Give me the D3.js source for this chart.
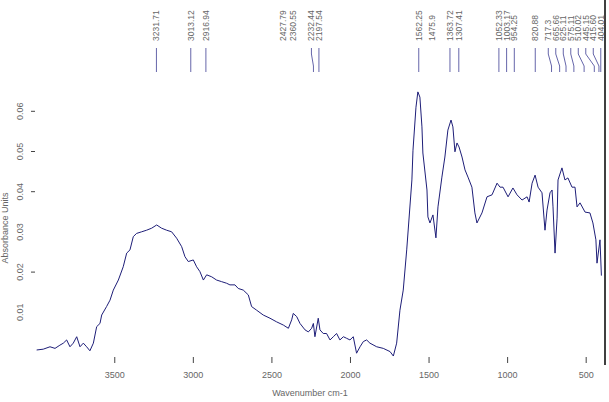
<!DOCTYPE html>
<html><head><meta charset="utf-8">
<script src="https://cdn.jsdelivr.net/npm/d3@7"></script>
<style>
html,body{margin:0;padding:0;background:#fff;}
svg{display:block;font-family:"Liberation Sans",Arial,sans-serif;}
</style></head>
<body>
<svg id="chart" width="609" height="402"></svg>
<script>
// ---- data ----
const wavenumbers = [3994,3952,3909,3877,3846,3824,3803,3782,3761,3739,3718,3697,3676,3655,3633,3612,3591,3580,3549,3527,3506,3474,3443,3421,3400,3379,3358,3326,3294,3262,3230,3199,3167,3135,3103,3071,3050,3029,2997,2976,2955,2933,2912,2880,2849,2817,2785,2764,2732,2711,2679,2647,2626,2594,2552,2509,2467,2424,2392,2371,2361,2339,2318,2286,2265,2244,2233,2223,2202,2191,2170,2149,2127,2106,2085,2064,2042,2021,2000,1979,1958,1936,1915,1894,1873,1830,1788,1745,1724,1703,1682,1661,1639,1606,1599,1580,1568,1555,1542,1536,1510,1504,1491,1472,1453,1440,1415,1396,1377,1357,1345,1332,1319,1306,1287,1268,1249,1224,1205,1192,1160,1128,1096,1064,1045,1026,994,963,937,905,873,860,841,822,803,778,759,746,727,714,708,695,682,676,651,632,613,587,568,555,536,504,473,454,435,428,409,400];
const absorbance  = [0.0005,0.0007,0.0013,0.0009,0.0017,0.0022,0.0030,0.0013,0.0022,0.0038,0.0013,0.0022,0.0013,0.0003,0.0022,0.0063,0.0071,0.0092,0.0113,0.0129,0.0154,0.0179,0.0212,0.0246,0.0254,0.0287,0.0295,0.0299,0.0303,0.0308,0.0316,0.0308,0.0303,0.0299,0.0283,0.0262,0.0237,0.0225,0.0229,0.0212,0.0200,0.0179,0.0192,0.0187,0.0179,0.0175,0.0171,0.0167,0.0167,0.0158,0.0154,0.0142,0.0113,0.0104,0.0092,0.0084,0.0075,0.0067,0.0059,0.0080,0.0096,0.0088,0.0071,0.0055,0.0050,0.0059,0.0071,0.0038,0.0084,0.0055,0.0046,0.0046,0.0030,0.0038,0.0046,0.0030,0.0038,0.0034,0.0030,0.0038,-0.0003,0.0013,0.0026,0.0030,0.0022,0.0013,0.0009,0.0001,-0.0010,0.0022,0.0104,0.0154,0.0254,0.0428,0.0502,0.0609,0.0647,0.0634,0.0560,0.0495,0.0403,0.0336,0.0321,0.0341,0.0284,0.0361,0.0435,0.0485,0.0552,0.0577,0.0560,0.0498,0.0520,0.0510,0.0485,0.0453,0.0435,0.0410,0.0346,0.0321,0.0346,0.0386,0.0391,0.0420,0.0410,0.0410,0.0386,0.0408,0.0391,0.0378,0.0386,0.0373,0.0420,0.0440,0.0410,0.0396,0.0303,0.0353,0.0396,0.0403,0.0361,0.0246,0.0333,0.0428,0.0458,0.0428,0.0433,0.0410,0.0410,0.0361,0.0371,0.0348,0.0346,0.0321,0.0279,0.0221,0.0279,0.0190];

const peakWavenumbers = [3231.71,3013.12,2916.94,2232.44,2197.54,1562.25,1363.72,1307.41,1052.33,1003.17,954.25,820.88,717.3,665.66,625.11,575.11,510.02,445.15,415.60,404.01];
const peakLabels = ["3231.71","3013.12","2916.94","2232.44","2197.54","1562.25","1363.72","1307.41","1052.33","1003.17","954.25","820.88","717.3","665.66","625.11","575.11","510.02","445.15","415.60","404.01"];
const unmarkedWavenumbers = [2427.79,2360.55,1475.9];
const unmarkedLabels = ["2427.79","2360.55","1475.9"];

const xTicks = [3500,3000,2500,2000,1500,1000,500];
const yTicks = [0.01,0.02,0.03,0.04,0.05,0.06];
const yTicksWithMark = [0.02,0.04,0.05,0.06];

// ---- chart ----
const svg = d3.select("#chart");
const x = d3.scaleLinear().domain([4000,400]).range([35.7,601.4]);
const y = d3.scaleLinear().domain([0,0.06]).range([352,110.8]);

const lineColor = "#1e1e78";
const markColor = "#6666aa";
const textColor = "#666";

// right frame fragment
svg.append("line").attr("x1",605).attr("x2",605).attr("y1",0).attr("y2",365)
  .attr("stroke","#000").attr("stroke-width",1.5);

// x axis
const xa = svg.append("g").attr("transform","translate(0,357)")
  .call(d3.axisBottom(x).tickValues(xTicks).tickSize(6).tickPadding(9).tickFormat(d3.format("d")));
xa.select(".domain").remove();
xa.selectAll("line").attr("stroke","#444");
xa.selectAll("text").attr("fill",textColor).style("font-size","9px");

// y axis
const ya = svg.append("g").attr("transform","translate(35,0)")
  .call(d3.axisLeft(y).tickValues(yTicks).tickSize(4).tickFormat(d3.format(".2f")));
ya.select(".domain").remove();
ya.selectAll(".tick").filter(d=>!yTicksWithMark.includes(d)).select("line").remove();
ya.selectAll("line").attr("stroke","#444");
ya.selectAll("text").attr("x",null).attr("dy",null)
  .attr("transform","translate(-14,0) rotate(-90)")
  .attr("text-anchor","middle").attr("dominant-baseline","middle")
  .attr("fill",textColor).style("font-size","9px");

// axis titles
svg.append("text").attr("x",310).attr("y",396).attr("text-anchor","middle")
  .attr("fill",textColor).style("font-size","9px").text("Wavenumber cm-1");
svg.append("text").attr("transform","translate(6,228) rotate(-90)").attr("text-anchor","middle")
  .attr("dominant-baseline","middle")
  .attr("fill",textColor).style("font-size","9px").text("Absorbance Units");

// spectrum
const line = d3.line().x((d,i)=>x(wavenumbers[i])).y(d=>y(d));
svg.append("path").datum(absorbance).attr("d",line)
  .attr("fill","none").attr("stroke",lineColor).attr("stroke-width",1);

// peak labels: spread crowded labels leftwards from the right end
const px = peakWavenumbers.map(w=>x(w));
const gap = 7.5;
const lx = px.slice();
for (let i=lx.length-2;i>=0;i--) lx[i] = Math.min(px[i], lx[i+1]-gap);

const pk = svg.append("g");
peakWavenumbers.forEach((w,i)=>{
  const a = lx[i], b = px[i];
  const pts = Math.abs(a-b)<0.8 ? [[b,48],[b,72]] : [[a,48],[a,54],[b,66],[b,72]];
  pk.append("path").attr("d",d3.line()(pts)).attr("fill","none")
    .attr("stroke",markColor).attr("stroke-width",1);
  pk.append("text").attr("transform",`translate(${a+3},41) rotate(-90)`)
    .attr("fill",textColor).style("font-size","8.5px").text(peakLabels[i]);
});
unmarkedWavenumbers.forEach((w,i)=>{
  pk.append("text").attr("transform",`translate(${x(w)+3},41) rotate(-90)`)
    .attr("fill",textColor).style("font-size","8.5px").text(unmarkedLabels[i]);
});
</script>
</body></html>
